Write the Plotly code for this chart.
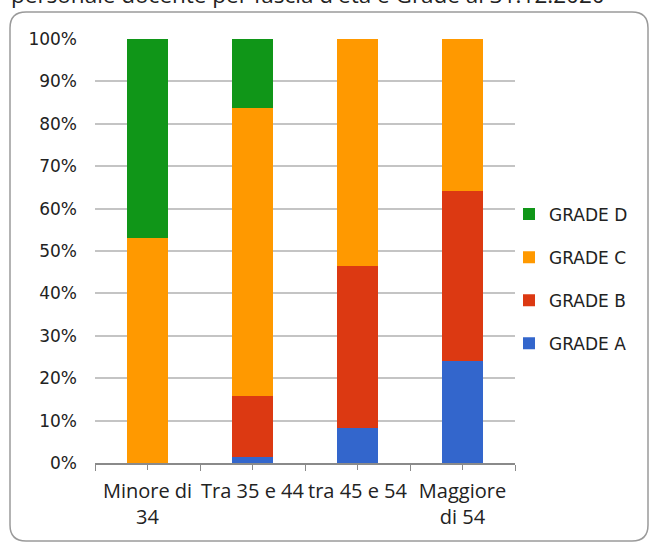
import plotly.graph_objects as go

categories = ["Minore di<br>34", "Tra 35 e 44", "tra 45 e 54", "Maggiore<br>di 54"]
grade_a = [0.0, 1.3, 8.3, 24.0]
grade_b = [0.0, 14.5, 38.2, 40.2]
grade_c = [53.0, 67.9, 53.5, 35.8]
grade_d = [47.0, 16.3, 0.0, 0.0]
series = [("GRADE A", grade_a, "#3366CC"), ("GRADE B", grade_b, "#DC3912"),
          ("GRADE C", grade_c, "#FF9900"), ("GRADE D", grade_d, "#109618")]
y_ticks = [0, 10, 20, 30, 40, 50, 60, 70, 80, 90, 100]
title_text = "personale docente per fascia d'età e Grade al 31.12.2020"

W, H = 652, 545
L, R, T, B = 95, 137, 39, 82
pw, ph = W - L - R, H - T - B

fig = go.Figure()
for i, (name, vals, col) in enumerate(series):
    fig.add_trace(go.Bar(x=categories, y=vals, name=name, marker_color=col,
                         marker_line_width=0, width=0.39, legendgroup=name,
                         legendrank=len(series) - i))
fig.add_trace(go.Scatter(x=categories, y=[None] * 4, xaxis="x2", showlegend=False,
                         hoverinfo="skip"))

def px(x):
    return (x - L) / pw

def py(y):
    return 1 - (y - T) / ph

x0, x1, y0, y1, r = 10, 648, 12, 541, 16
path = (f"M {px(x0+r)},{py(y0)} L {px(x1-r)},{py(y0)} Q {px(x1)},{py(y0)} {px(x1)},{py(y0+r)} "
        f"L {px(x1)},{py(y1-r)} Q {px(x1)},{py(y1)} {px(x1-r)},{py(y1)} "
        f"L {px(x0+r)},{py(y1)} Q {px(x0)},{py(y1)} {px(x0)},{py(y1-r)} "
        f"L {px(x0)},{py(y0+r)} Q {px(x0)},{py(y0)} {px(x0+r)},{py(y0)} Z")

fig.update_layout(
    width=W, height=H, barmode="stack",
    margin=dict(l=L, r=R, t=T, b=B, pad=0, autoexpand=False),
    paper_bgcolor="white", plot_bgcolor="white",
    font=dict(family="DejaVu Sans", color="#222222"),
    shapes=[dict(type="path", xref="paper", yref="paper", path=path,
                 line=dict(color="#9a9a9a", width=1.5), layer="below")],
    annotations=[dict(text=title_text, xref="paper", yref="paper", x=px(308), y=py(-5),
                      xanchor="center", yanchor="middle", showarrow=False,
                      font=dict(family="Open Sans", size=22.5, color="#222222"))],
    legend=dict(traceorder="grouped", tracegroupgap=18, x=px(509), y=py(279),
                xanchor="left", yanchor="middle", font=dict(family="DejaVu Sans", size=17),
                bgcolor="rgba(0,0,0,0)"),
    xaxis=dict(type="category", tickson="boundaries", ticks="outside", ticklen=6,
               tickcolor="#8a8a8a", showline=True, linecolor="#8a8a8a", linewidth=1.5,
               showgrid=False, range=[-0.5, 3.5], tickangle=0, automargin=False,
               ticklabelstandoff=9,
               tickfont=dict(family="Open Sans", size=20, color="#222222")),
    xaxis2=dict(type="category", overlaying="x", anchor="y", side="bottom", range=[-0.5, 3.5],
                categoryorder="array", categoryarray=categories, showticklabels=False,
                ticks="outside", ticklen=6, tickcolor="#8a8a8a", showline=False,
                showgrid=False, automargin=False),
    yaxis=dict(range=[0, 100], tickvals=y_ticks, ticktext=[f"{v}%" for v in y_ticks],
               showgrid=True, gridcolor="#c4c4c4", gridwidth=1.5, zeroline=False,
               showline=False, ticks="", ticklabelstandoff=17, automargin=False,
               tickfont=dict(family="DejaVu Sans", size=17, color="#222222")),
    showlegend=True,
)

fig.write_html("out.html", config={"displayModeBar": False},
               post_script="document.body.style.margin='0';")
